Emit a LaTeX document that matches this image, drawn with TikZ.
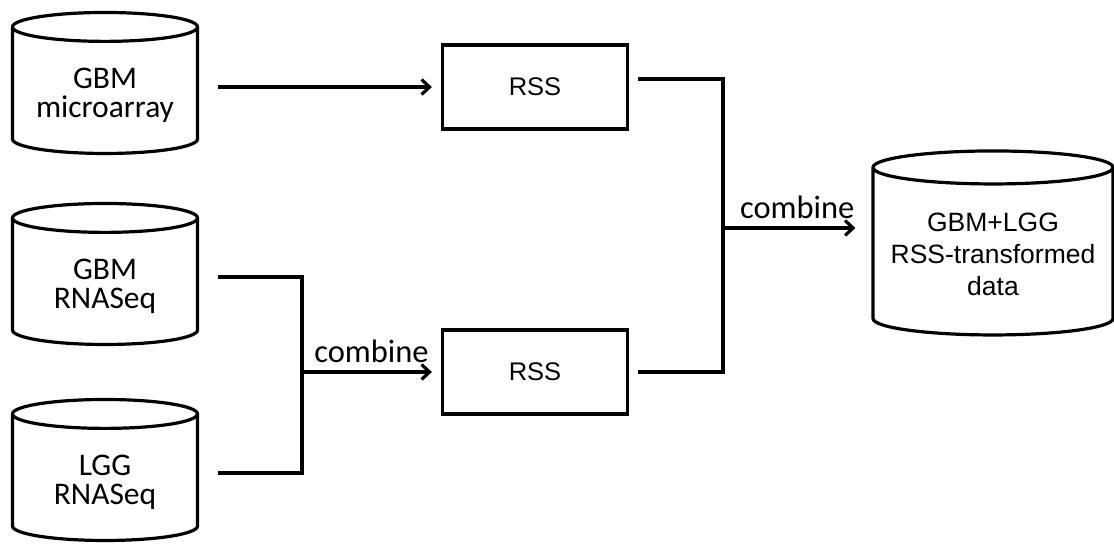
\documentclass[tikz,border=0pt]{standalone}
\usepackage{fontspec}
\newfontfamily\calibfont{Carlito}
\newfontfamily\helvfont{Liberation Sans}
\usetikzlibrary{shapes.geometric,arrows.meta,positioning}

\begin{document}
\begin{tikzpicture}[x=1pt, y=-1pt,
    db/.style={cylinder, shape border rotate=90, draw, line width=3.2pt, aspect=0.17, inner sep=0pt,
               text width=170pt, align=center, text height=20pt, text depth=26pt,
               minimum width=185pt, minimum height=141pt, font=\calibfont\fontsize{31.5}{29}\selectfont},
    rssbox/.style={rectangle, draw, line width=3.2pt, minimum width=185pt, minimum height=84pt, font=\helvfont\fontsize{25.5}{28}\selectfont},
    line/.style={line width=3.2pt},
    arrow/.style={line width=3.2pt, -{Straight Barb[length=8pt, width=15pt]}},
    lbl/.style={font=\calibfont\fontsize{32.5}{34}\selectfont, inner sep=1pt, above=7pt}
]
\useasboundingbox (0,0) rectangle (1114,544);

% data sources
\node[db] (gbmarr) at (105,91) {GBM\\microarray};
\node[db] (gbmseq) at (105,282) {GBM\\RNASeq};
\node[db] (lggseq) at (105,478) {LGG\\RNASeq};

% RSS steps
\node[rssbox] (rss1) at (535,87) {RSS};
\node[rssbox] (rss2) at (535,372) {RSS};

% result
\node[db, text width=220pt, aspect=0.15, text height=20pt, text depth=62pt,
      minimum width=240pt, minimum height=184pt, font=\helvfont\fontsize{26.5}{32}\selectfont] (result) at (993,252) {GBM+LGG\\RSS-transformed\\data};

\coordinate (join1) at (302,372);
\coordinate (join2) at (723,228);

\draw[arrow, shorten >=9pt] ([xshift=19pt]gbmarr.east |- rss1.west) -- (rss1.west);
\draw[line] ([xshift=19pt, yshift=5pt]gbmseq.east) -| (join1) |- ([xshift=19pt, yshift=5pt]lggseq.east);
\draw[arrow, shorten >=9pt] (join1) -- node[lbl] {combine} (rss2.west);
\draw[line] ([xshift=9pt, yshift=8pt]rss1.east) -| (join2) |- ([xshift=9pt]rss2.east);
\draw[arrow, shorten >=16pt] (join2) -- node[lbl] {combine} (join2 -| result.west);
\end{tikzpicture}
\end{document}
